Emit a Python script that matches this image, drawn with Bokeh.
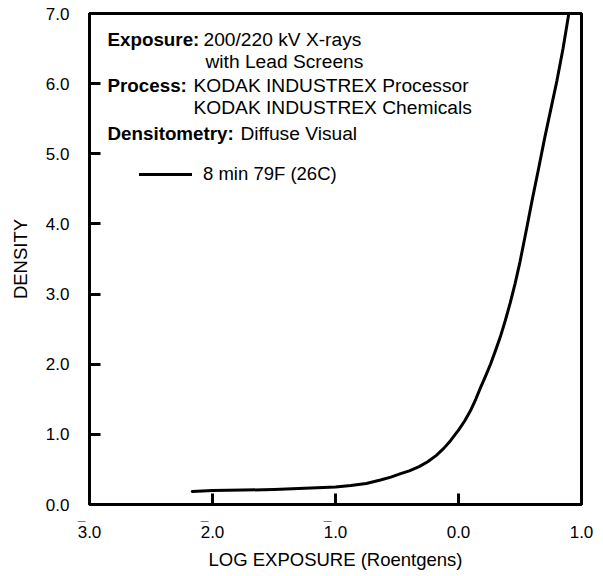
from bokeh.plotting import figure
from bokeh.models import Range1d, FixedTicker, Legend, LegendItem, LinearAxis
from bokeh.core.properties import value
from bokeh.embed import file_html
from bokeh.resources import INLINE

# ---- data ----
log_exposure = [-2.165, -2.0, -1.75, -1.5, -1.25, -1.0, -0.875, -0.75, -0.634, -0.55,
                -0.47, -0.40, -0.32, -0.25, -0.18, -0.12, -0.065, 0.0, 0.05, 0.098,
                0.14, 0.18, 0.22, 0.26, 0.30, 0.34, 0.38, 0.42, 0.46, 0.50,
                0.55, 0.60, 0.65, 0.70, 0.75, 0.80, 0.85, 0.897]
density = [0.185, 0.20, 0.205, 0.215, 0.23, 0.25, 0.27, 0.30, 0.35, 0.39,
           0.44, 0.48, 0.54, 0.61, 0.70, 0.80, 0.91, 1.06, 1.19, 1.34,
           1.50, 1.67, 1.83, 2.0, 2.19, 2.39, 2.62, 2.87, 3.15, 3.46,
           3.90, 4.35, 4.78, 5.22, 5.63, 6.04, 6.50, 7.0]
series_label = "8 min 79F (26C)"

x_ticks = [-3, -2, -1, 0, 1]
x_tick_labels = ["3.0", "2.0", "1.0", "0.0", "1.0"]
x_bar_ticks = [-3, -2, -1]          # characteristics written with a bar (negative)
y_ticks = [0, 1, 2, 3, 4, 5, 6, 7]
y_tick_labels = ["0.0", "1.0", "2.0", "3.0", "4.0", "5.0", "6.0", "7.0"]

info_heads = ["Exposure:", "Process:", "Densitometry:"]
info_lines = ["200/220 kV X-rays", "with Lead Screens",
              "KODAK INDUSTREX Processor", "KODAK INDUSTREX Chemicals",
              "Diffuse Visual"]

FONT = "Liberation Sans"

p = figure(frame_width=492, frame_height=491, output_backend="svg",
           toolbar_location=None, min_border_left=89, min_border_right=20,
           min_border_top=13, min_border_bottom=70,
           x_range=Range1d(-3, 1), y_range=Range1d(0, 7))
p.background_fill_color = "white"
p.border_fill_color = "white"
p.grid.visible = False
p.outline_line_color = "black"
p.outline_line_width = 3

for ax in (p.xaxis[0], p.yaxis[0]):
    ax.axis_line_width = 3
    ax.axis_line_color = "black"
    ax.major_tick_in = 11
    ax.major_tick_out = 0
    ax.major_tick_line_width = 3
    ax.minor_tick_line_color = None
    ax.major_label_text_font = FONT
    ax.major_label_text_font_size = "17px"
    ax.major_label_text_color = "black"
    ax.axis_label_text_font = FONT
    ax.axis_label_text_font_size = "18.5px"
    ax.axis_label_text_font_style = "normal"
    ax.axis_label_text_color = "black"

xa = p.xaxis[0]
xa.ticker = FixedTicker(ticks=x_ticks)
xa.major_label_overrides = dict(zip(x_ticks, x_tick_labels))
xa.major_label_standoff = 21

# second axis below: bars over the negative characteristics + axis title
NB = "\u00a0"
bar_axis = LinearAxis(ticker=FixedTicker(ticks=x_bar_ticks),
                      major_label_overrides={t: "\u00af" + NB * 4 for t in x_bar_ticks},
                      axis_line_color=None, major_tick_line_color=None,
                      minor_tick_line_color=None,
                      major_label_text_font=FONT, major_label_text_font_size="14px",
                      major_label_text_font_style="bold",
                      major_label_text_color="black", major_label_standoff=-28,
                      axis_label="LOG EXPOSURE (Roentgens)", axis_label_standoff=11,
                      axis_label_text_font=FONT, axis_label_text_font_size="18.5px",
                      axis_label_text_font_style="normal", axis_label_text_color="black")
p.add_layout(bar_axis, "below")

ya = p.yaxis[0]
ya.ticker = FixedTicker(ticks=y_ticks)
ya.major_label_overrides = dict(zip(y_ticks, y_tick_labels))
ya.major_label_standoff = 20
ya.axis_label = "DENSITY"
ya.axis_label_standoff = 12

r = p.line(log_exposure, density, line_color="black", line_width=3,
           line_join="round", line_cap="round")

# annotation text (positions converted from frame pixels to data units)
def dx(px):
    return -3 + (px - 89) / 123.0

def dy(py):
    return (504 - py) / 70.14

head_x = [dx(107)] * 3
head_y = [dy(39), dy(85), dy(133)]
p.text(head_x, head_y, text=info_heads, text_font=value(FONT),
       text_font_style="bold", text_font_size="18.8px", text_baseline="middle",
       text_color="black")

line_x = [dx(203), dx(205), dx(193), dx(193), dx(240)]
line_y = [dy(39), dy(61), dy(85), dy(107), dy(133)]
p.text(line_x, line_y, text=info_lines, text_font=value(FONT),
       text_font_size="19.2px", text_baseline="middle", text_color="black")

legend = Legend(items=[LegendItem(label=series_label, renderers=[r])],
                location=(50, 319), padding=0, margin=0, glyph_width=53,
                glyph_height=20, label_standoff=11, label_text_font=FONT,
                label_text_font_size="18.5px", label_text_color="black",
                border_line_alpha=0, background_fill_alpha=0)
p.add_layout(legend)

open("out.html", "w").write(file_html(p, INLINE))
